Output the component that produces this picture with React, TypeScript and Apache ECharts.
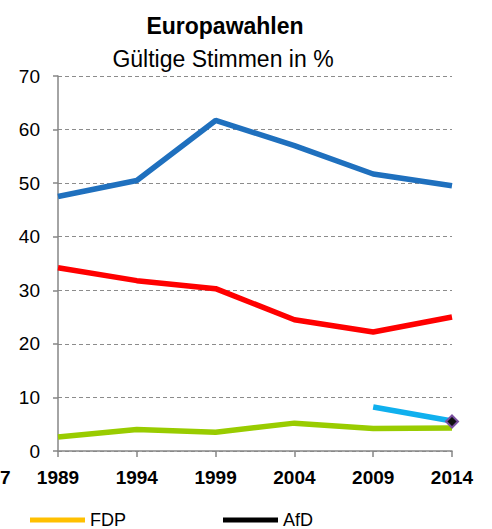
import React, { useEffect, useRef } from "react";
import * as echarts from "echarts";

const years = ["1989", "1994", "1999", "2004", "2009", "2014"];
const yTicks = [0, 10, 20, 30, 40, 50, 60, 70];
const blueValues = [47.5, 50.5, 61.7, 57.0, 51.7, 49.5];
const redValues = [34.2, 31.8, 30.3, 24.5, 22.2, 25.0];
const greenValues = [2.6, 4.0, 3.5, 5.2, 4.2, 4.3];
const skyValues = [null, null, null, null, 8.2, 5.6];
const fdpValues = [null, null, null, null, null, null];
const afdValues = [null, null, null, null, null, 5.5];

const FONT = "'Liberation Sans', Arial, sans-serif";

export default function App() {
  const ref = useRef<HTMLDivElement>(null);
  useEffect(() => {
    document.body.style.margin = "0";
    const chart = echarts.init(ref.current!, null, { renderer: "svg" });
    const lineSeries = (name: string, data: any[], color: string) => ({
      name,
      type: "line",
      data,
      showSymbol: false,
      symbol: "none",
      lineStyle: { color, width: 5.5 },
      itemStyle: { color },
      connectNulls: false,
    });
    chart.setOption({
      animation: false,
      textStyle: { fontFamily: FONT },
      title: [
        {
          text: "Europawahlen",
          left: 220,
          textAlign: "center",
          top: 9,
          textStyle: { fontFamily: FONT, fontSize: 23, fontWeight: "bold", color: "#000" },
        },
        {
          text: "Gültige Stimmen in %",
          left: 218,
          textAlign: "center",
          top: 42,
          textStyle: { fontFamily: FONT, fontSize: 23, fontWeight: "normal", color: "#000" },
        },
      ],
      graphic: [
        {
          type: "text",
          left: 0,
          top: 468,
          style: { text: "7", font: `bold 19px ${FONT}`, fill: "#000" },
        },
      ],
      legend: [
        {
          data: [{ name: "FDP", icon: "rect" }],
          left: 25,
          top: 506,
          itemWidth: 55,
          itemHeight: 5,
          textStyle: { fontFamily: FONT, fontSize: 18, lineHeight: 18, color: "#000" },
        },
        {
          data: [{ name: "AfD", icon: "rect", itemStyle: { color: "#000", borderWidth: 0 } }],
          left: 218,
          top: 506,
          itemWidth: 55,
          itemHeight: 5,
          textStyle: { fontFamily: FONT, fontSize: 18, lineHeight: 18, color: "#000" },
        },
      ],
      grid: { left: 58, right: 40, top: 76, bottom: 78, containLabel: false },
      xAxis: {
        type: "category",
        data: years,
        boundaryGap: false,
        axisLine: { lineStyle: { color: "#868686", width: 1.5 } },
        axisTick: { show: true, length: 6, lineStyle: { color: "#868686", width: 1.5 } },
        axisLabel: {
          fontFamily: FONT,
          fontSize: 19,
          fontWeight: "bold",
          color: "#000",
          margin: 17,
          showMinLabel: true,
          showMaxLabel: true,
          interval: 0,
        },
        splitLine: { show: false },
      },
      yAxis: {
        type: "value",
        min: yTicks[0],
        max: yTicks[yTicks.length - 1],
        interval: 10,
        axisLine: { show: true, lineStyle: { color: "#868686", width: 1.5 } },
        axisTick: { show: true, length: 5, lineStyle: { color: "#868686", width: 1.5 } },
        axisLabel: { fontFamily: FONT, fontSize: 19, color: "#000", margin: 18 },
        splitLine: { show: true, lineStyle: { color: "#8c8c8c", type: [4, 3], width: 1 } },
      },
      series: [
        lineSeries("Union", blueValues, "#1F70BE"),
        lineSeries("SPD", redValues, "#FF0000"),
        lineSeries("Grüne", greenValues, "#99CC00"),
        lineSeries("Freie Wähler", skyValues, "#10B0EE"),
        lineSeries("FDP", fdpValues, "#FFC000"),
        {
          name: "AfD",
          type: "line",
          data: afdValues,
          showSymbol: true,
          symbol: "diamond",
          symbolSize: 12,
          lineStyle: { color: "#000", width: 5 },
          itemStyle: { color: "#111", borderColor: "#7A4FA0", borderWidth: 2 },
        },
      ],
    });
    return () => chart.dispose();
  }, []);
  return <div ref={ref} style={{ width: 492, height: 529 }} />;
}
